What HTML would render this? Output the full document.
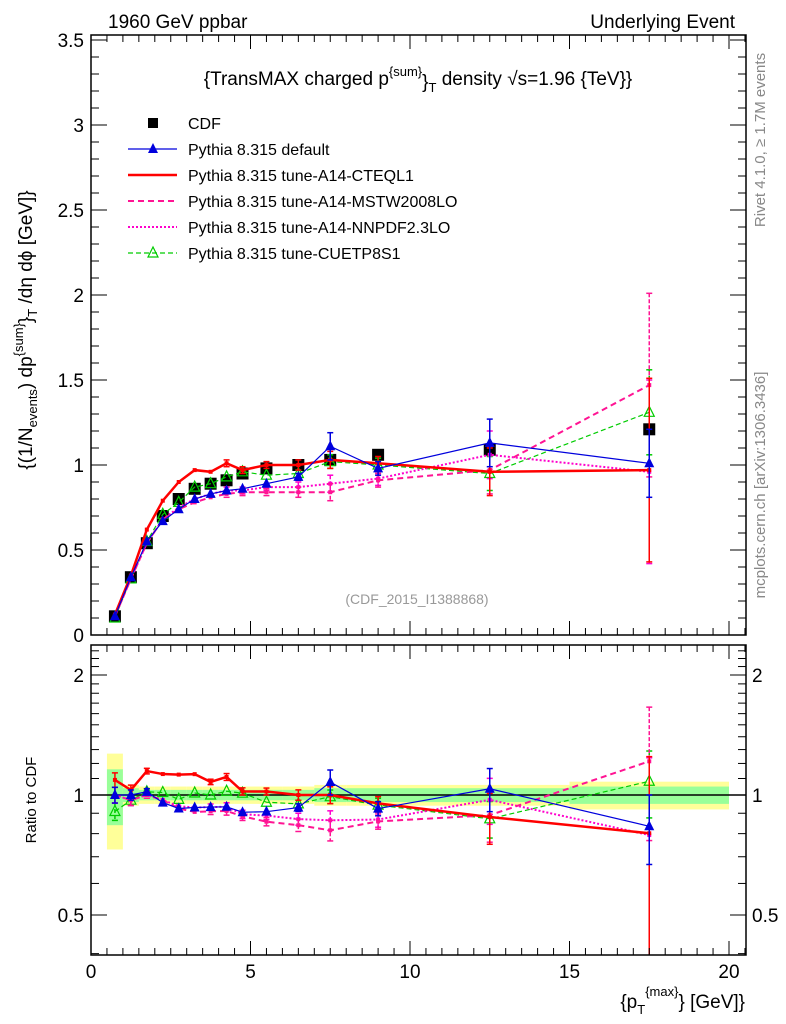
<!DOCTYPE html>
<html><head><meta charset="utf-8"><style>
body{margin:0;background:#fff;}
svg{display:block;font-family:"Liberation Sans",sans-serif;}
</style></head><body>
<svg id="c" width="786" height="1024" viewBox="0 0 786 1024">
<defs>
<clipPath id="cm"><rect x="91" y="35" width="655" height="600"/></clipPath>
<clipPath id="cr"><rect x="91" y="645" width="655" height="310"/></clipPath>
</defs>
<text x="108" y="28" font-size="19">1960 GeV ppbar</text>
<text x="735" y="28" font-size="19" text-anchor="end">Underlying Event</text>
<text x="418" y="85" font-size="19" text-anchor="middle">{TransMAX charged p<tspan dy="-9" font-size="13">{sum}</tspan><tspan dy="12">}</tspan><tspan dy="4" font-size="13">T</tspan><tspan dy="-7"> density √s=1.96 {TeV}}</tspan></text>
<text transform="translate(765,140) rotate(-90)" font-size="15" fill="#888" text-anchor="middle">Rivet 4.1.0, ≥ 1.7M events</text>
<text transform="translate(765,485) rotate(-90)" font-size="15" fill="#888" text-anchor="middle">mcplots.cern.ch [arXiv:1306.3436]</text>
<text x="417" y="604" font-size="14" fill="#999" text-anchor="middle">(CDF_2015_I1388868)</text>
<text transform="translate(32,330) rotate(-90)" font-size="19" text-anchor="middle">{(1/N<tspan dy="5" font-size="13">events</tspan><tspan dy="-5">) dp</tspan><tspan dy="-9" font-size="13">{sum}</tspan><tspan dy="9">}</tspan><tspan dy="5" font-size="13">T</tspan><tspan dy="-5"> /dη  dϕ [GeV]}</tspan></text>
<text transform="translate(36,800) rotate(-90)" font-size="15" text-anchor="middle">Ratio to CDF</text>
<text x="745" y="1008" font-size="19" text-anchor="end">{p<tspan dy="6" font-size="13">T</tspan><tspan dy="-18" font-size="13">{max}</tspan><tspan dy="12">} [GeV]}</tspan></text>
<g id="legend"></g>
<g id="main"></g><g id="ratio"></g>
</svg>
<script>
const xs=[0.75,1.25,1.75,2.25,2.75,3.25,3.75,4.25,4.75,5.5,6.5,7.5,9,12.5,17.5];
const cdf=[0.11,0.34,0.54,0.70,0.80,0.86,0.89,0.91,0.95,0.98,1.00,1.03,1.06,1.09,1.21];
const red=[0.12,0.35,0.62,0.79,0.90,0.97,0.96,1.01,0.97,1.00,1.00,1.03,1.01,0.96,0.97];
const blue=[0.11,0.34,0.55,0.67,0.74,0.80,0.83,0.85,0.86,0.89,0.93,1.11,0.98,1.13,1.01];
const green=[0.10,0.33,0.55,0.71,0.78,0.87,0.89,0.93,0.96,0.94,0.95,1.02,1.00,0.95,1.31];
const mstw=[0.11,0.33,0.54,0.68,0.74,0.78,0.81,0.83,0.84,0.84,0.84,0.84,0.91,0.97,1.47];
const nnpdf=[0.11,0.33,0.54,0.68,0.75,0.80,0.83,0.85,0.85,0.87,0.87,0.89,0.92,1.06,0.96];
const pdfErr=[0.005,0.01,0.01,0.01,0.01,0.01,0.015,0.02,0.02,0.02,0.03,0.05,0.04,0.14,0.54];
const blueErr=[0.005,0.01,0.01,0.01,0.01,0.01,0.01,0.01,0.01,0.01,0.02,0.08,0.04,0.14,0.2];
const greenErr=[0.005,0.01,0.01,0.01,0.01,0.01,0.01,0.01,0.01,0.01,0.02,0.04,0.04,0.1,0.25];
const binEdges=[0.5,1,1.5,2,2.5,3,3.5,4,4.5,5,6,7,8,10,15,20];
const bandY=[0.27,0.06,0.05,0.05,0.05,0.05,0.05,0.05,0.05,0.05,0.05,0.06,0.06,0.06,0.08];
const bandG=[0.16,0.04,0.03,0.03,0.03,0.03,0.03,0.03,0.03,0.03,0.03,0.04,0.04,0.04,0.05];
const yTicks=[0,0.5,1,1.5,2,2.5,3,3.5];
const xTicks=[0,5,10,15,20];
const rTicks=[0.5,1,2];
const NS='http://www.w3.org/2000/svg';
const X=v=>91+v*31.9, Y=v=>635-v*170, R=v=>795-Math.log2(v)*120;
function el(p,t,a){const e=document.createElementNS(NS,t);for(const k in a)e.setAttribute(k,a[k]);p.appendChild(e);return e;}
const svg=document.getElementById('c'),main=document.getElementById('main'),ratio=document.getElementById('ratio');
main.setAttribute('clip-path','url(#cm)');ratio.setAttribute('clip-path','url(#cr)');
for(let i=0;i<xs.length;i++){
 const x0=X(binEdges[i]),x1=X(binEdges[i+1]);
 const b=el(ratio,'rect',{x:x0,y:R(1+bandY[i]),width:x1-x0,height:R(1-bandY[i])-R(1+bandY[i]),fill:'#ffff99'});
 
 
}
for(let i=0;i<xs.length;i++){
 const x0=X(binEdges[i]),x1=X(binEdges[i+1]);
 const b=el(ratio,'rect',{x:x0,y:R(1+bandG[i]),width:x1-x0,height:R(1-bandG[i])-R(1+bandG[i]),fill:'#99ff99'});
 
 
}
el(ratio,'line',{x1:91,x2:746,y1:R(1),y2:R(1),stroke:'#000','stroke-width':1.5});
const f1=el(svg,'rect',{x:91,y:35,width:655,height:600,fill:'none',stroke:'#000','stroke-width':1.5});


const f2=el(svg,'rect',{x:91,y:645,width:655,height:310,fill:'none',stroke:'#000','stroke-width':1.5});


for(let v=0;v<=20.5;v+=0.5){const maj=v%5===0,len=maj?14:7;
 for(const [yb,yt] of [[635,35],[955,645]]){
  el(svg,'line',{x1:X(v),x2:X(v),y1:yb,y2:yb-len,stroke:'#000'});
  el(svg,'line',{x1:X(v),x2:X(v),y1:yt,y2:yt+len,stroke:'#000'});}}
xTicks.forEach(v=>{const t=el(svg,'text',{x:X(v),y:978,'font-size':19,'text-anchor':'middle'});t.textContent=v;
 
 });
for(let v=0;v<=3.55;v+=0.1){const maj=Math.abs(v*2-Math.round(v*2))<1e-6,len=maj?16:8;
 el(svg,'line',{x1:91,x2:91+len,y1:Y(v),y2:Y(v),stroke:'#000'});el(svg,'line',{x1:746,x2:746-len,y1:Y(v),y2:Y(v),stroke:'#000'});}
yTicks.forEach(v=>{const t=el(svg,'text',{x:84,y:Y(v)+7,'font-size':19,'text-anchor':'end'});t.textContent=v;
 
 });
for(let v=0.4;v<=2.4;v+=0.1){if(R(v)<645||R(v)>955)continue;const maj=[0.5,1,2].some(m=>Math.abs(m-v)<1e-6),len=maj?16:8;
 el(svg,'line',{x1:91,x2:91+len,y1:R(v),y2:R(v),stroke:'#000'});el(svg,'line',{x1:746,x2:746-len,y1:R(v),y2:R(v),stroke:'#000'});}
rTicks.forEach(v=>{for(const [x,a] of [[84,'end'],[752,'start']]){const t=el(svg,'text',{x:x,y:R(v)+7,'font-size':19,'text-anchor':a});t.textContent=v;
 
 }});
const series=[
 {n:'cuetp8s1',d:green,e:greenErr,c:'#00cc00',w:1.2,da:'5,3',m:'otri'},
 {n:'nnpdf',d:nnpdf,e:pdfErr,c:'#ff00cc',w:2,da:'2,2',m:'dot'},
 {n:'mstw',d:mstw,e:pdfErr,c:'#ff1493',w:2,da:'6,4',m:'dot'},
 {n:'cteql1',d:red,e:pdfErr,c:'#ff0000',w:2.5,da:'',m:'dot'},
 {n:'default',d:blue,e:blueErr,c:'#0000dd',w:1.2,da:'',m:'tri'}];
function marker(g,m,x,y,c){
 if(m==='tri')el(g,'polygon',{points:`${x},${y-6} ${x-5},${y+4} ${x+5},${y+4}`,fill:c});
 else if(m==='otri')el(g,'polygon',{points:`${x},${y-6} ${x-5},${y+4} ${x+5},${y+4}`,fill:'none',stroke:c,'stroke-width':1.2});
 else el(g,'rect',{x:x-2,y:y-2,width:4,height:4,fill:c});}
cdf.forEach((v,i)=>{const r=el(main,'rect',{x:X(xs[i])-6,y:Y(v)-6,width:12,height:12,fill:'#000'});
 
 });
series.forEach(s=>{
 for(const [panel,fy,vals] of [[main,Y,s.d],[ratio,R,s.d.map((v,i)=>v/cdf[i])]]){
  const g=el(panel,'g',{});
  
  
  el(g,'polyline',{points:vals.map((v,i)=>X(xs[i])+','+fy(v)).join(' '),fill:'none',stroke:s.c,'stroke-width':s.w,'stroke-dasharray':s.da});
  vals.forEach((v,i)=>{const e=s.e[i]*(panel===ratio?1/cdf[i]:1);
   if(e>0.015){const lo=Math.max(v-e,0.3);
    el(g,'line',{x1:X(xs[i]),x2:X(xs[i]),y1:fy(v+e),y2:fy(lo),stroke:s.c,'stroke-width':1.5,'stroke-dasharray':s.da?'4,2':''});
    el(g,'line',{x1:X(xs[i])-3,x2:X(xs[i])+3,y1:fy(v+e),y2:fy(v+e),stroke:s.c,'stroke-width':1.5});
    el(g,'line',{x1:X(xs[i])-3,x2:X(xs[i])+3,y1:fy(lo),y2:fy(lo),stroke:s.c,'stroke-width':1.5});}
   marker(g,s.m,X(xs[i]),fy(v),s.c);});
 }});
const lg=document.getElementById('legend');
el(lg,'rect',{x:148,y:118,width:10,height:10,fill:'#000'});
const leg=[['CDF',null],['Pythia 8.315 default',series[4]],['Pythia 8.315 tune-A14-CTEQL1',series[3]],['Pythia 8.315 tune-A14-MSTW2008LO',series[2]],['Pythia 8.315 tune-A14-NNPDF2.3LO',series[1]],['Pythia 8.315 tune-CUETP8S1',series[0]]];
leg.forEach((l,i)=>{const y=123+i*26;
 if(l[1]){el(lg,'line',{x1:128,x2:177,y1:y,y2:y,stroke:l[1].c,'stroke-width':l[1].w,'stroke-dasharray':l[1].da});
  if(l[1].m!=='dot')marker(lg,l[1].m,153,y,l[1].c);}
 const t=el(lg,'text',{x:188,y:y+6,'font-size':16});t.textContent=l[0];
 
 });
</script>
</body></html>
